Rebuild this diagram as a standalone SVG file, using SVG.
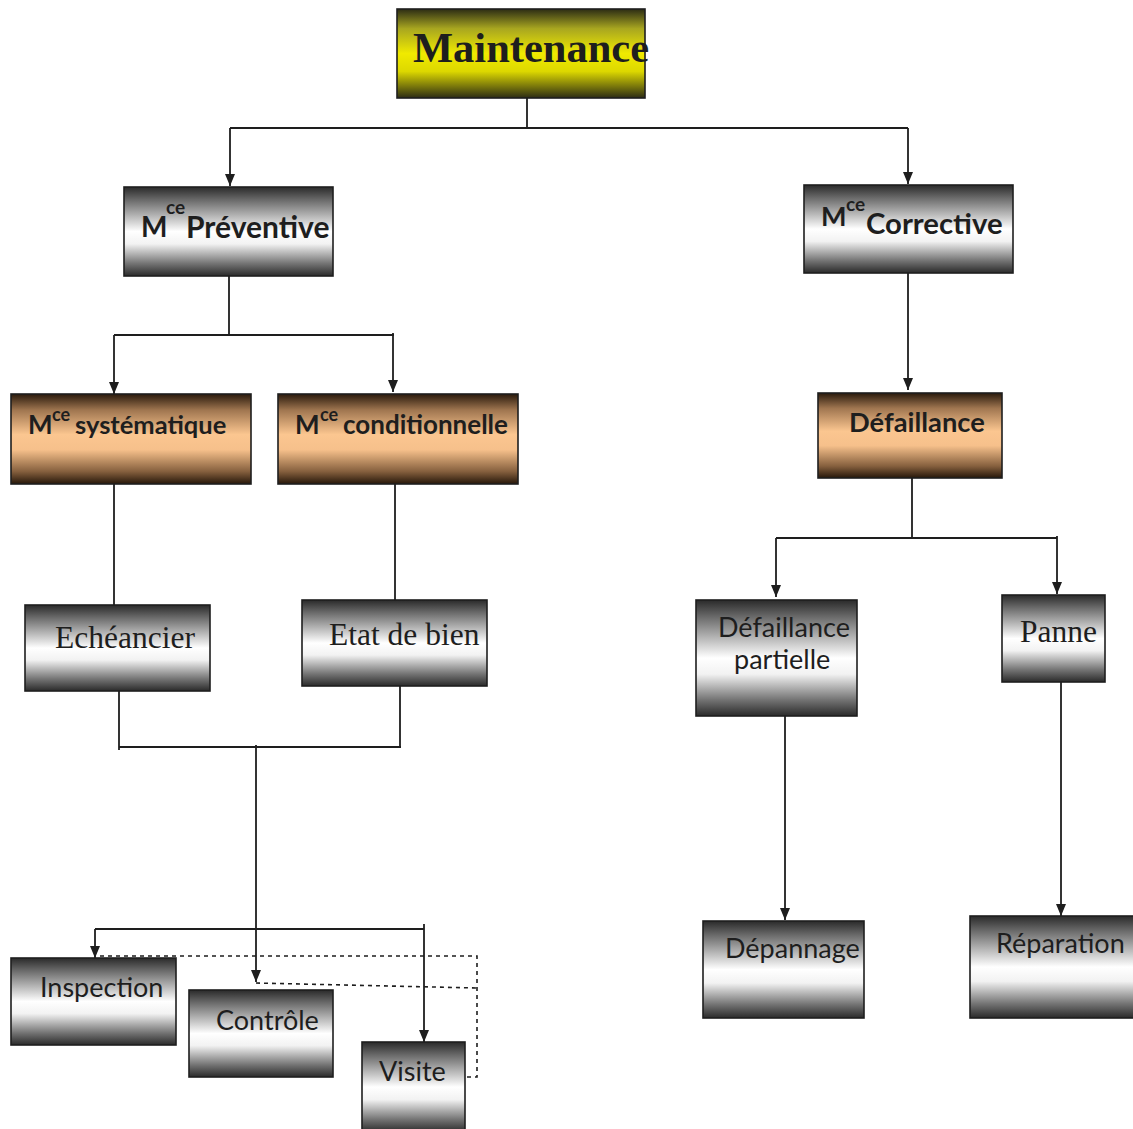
<svg xmlns="http://www.w3.org/2000/svg" width="1133" height="1129" viewBox="0 0 1133 1129">
<defs>
<linearGradient id="gGrey" x1="0" y1="0" x2="0" y2="1">
<stop offset="0" stop-color="#2a2a2a"/>
<stop offset="0.15" stop-color="#6c6c6c"/>
<stop offset="0.5" stop-color="#ffffff"/>
<stop offset="0.64" stop-color="#f2f2f2"/>
<stop offset="0.86" stop-color="#747474"/>
<stop offset="1" stop-color="#2a2a2a"/>
</linearGradient>
<linearGradient id="gOrange" x1="0" y1="0" x2="0" y2="1">
<stop offset="0" stop-color="#2a1a0c"/>
<stop offset="0.18" stop-color="#a07650"/>
<stop offset="0.45" stop-color="#fbc690"/>
<stop offset="0.62" stop-color="#f6c08b"/>
<stop offset="0.86" stop-color="#86603e"/>
<stop offset="1" stop-color="#26170a"/>
</linearGradient>
<linearGradient id="gYellow" x1="0" y1="0" x2="0" y2="1">
<stop offset="0" stop-color="#2c2c14"/>
<stop offset="0.22" stop-color="#a8a620"/>
<stop offset="0.5" stop-color="#f0ea00"/>
<stop offset="0.7" stop-color="#ddd800"/>
<stop offset="1" stop-color="#2c2c14"/>
</linearGradient>
<marker id="arr" viewBox="0 0 12 10" refX="12" refY="5" markerWidth="12" markerHeight="10" markerUnits="userSpaceOnUse" orient="auto">
<path d="M0,0 L12,5 L0,10 Z" fill="#1e1e1e"/>
</marker>
<style>
.box{stroke:#1e1e1e;stroke-width:1.6}
.grey{fill:url(#gGrey)}
.orange{fill:url(#gOrange)}
.yellow{fill:url(#gYellow)}
.ln{fill:none;stroke:#1e1e1e;stroke-width:1.8}
.dot{fill:none;stroke:#1e1e1e;stroke-width:1.6;stroke-dasharray:4 4}
.sb{font-family:Lato,"Liberation Sans",sans-serif;font-weight:bold;fill:#1e1e1e}
.sr{font-family:Lato,"Liberation Sans",sans-serif;fill:#1e1e1e;font-size:27px}
.sr2{font-family:"Liberation Serif",serif;fill:#1e1e1e;font-size:31.5px}
</style>
</defs>
<g id="connectors">
<path class="ln" d="M527,98 V128 M230,128 H908"/>
<path class="ln" d="M230,128 V186" marker-end="url(#arr)"/>
<path class="ln" d="M908,128 V184" marker-end="url(#arr)"/>
<path class="ln" d="M229,276 V335 M114,335 H394"/>
<path class="ln" d="M114,335 V394" marker-end="url(#arr)"/>
<path class="ln" d="M393,333 V392" marker-end="url(#arr)"/>
<path class="ln" d="M114,484 V605"/>
<path class="ln" d="M395,484 V600"/>
<path class="ln" d="M119,691 V750 M400,686 V748 M119,747 H401"/>
<path class="ln" d="M256,745 V982" marker-end="url(#arr)"/>
<path class="ln" d="M95,929 H424"/>
<path class="ln" d="M95,929 V958" marker-end="url(#arr)"/>
<path class="ln" d="M424,924 V1042" marker-end="url(#arr)"/>
<path class="dot" d="M100,956 H477 V1077 H445"/>
<path class="dot" d="M256,983 L477,988"/>
<path class="ln" d="M908,273 V390" marker-end="url(#arr)"/>
<path class="ln" d="M912,478 V538 M776,538 H1057"/>
<path class="ln" d="M776,538 V597" marker-end="url(#arr)"/>
<path class="ln" d="M1057,536 V594" marker-end="url(#arr)"/>
<path class="ln" d="M785,716 V920" marker-end="url(#arr)"/>
<path class="ln" d="M1061,682 V916" marker-end="url(#arr)"/>
</g>
<g id="maintenance">
<rect class="box yellow" x="397" y="9" width="248" height="89"/>
<text x="413" y="62" font-family="'Liberation Serif',serif" font-weight="bold" font-size="42.5" fill="#1e1e1e">Maintenance</text>
</g>
<g id="preventive">
<rect class="box grey" x="124" y="187" width="209" height="89"/>
<text class="sb" x="141" y="237" font-size="28">M</text>
<text class="sb" x="166" y="214" font-size="19">ce</text>
<text class="sb" x="186" y="238" font-size="30">Préventive</text>
</g>
<g id="corrective">
<rect class="box grey" x="804" y="185" width="209" height="88"/>
<text class="sb" x="821" y="226" font-size="27">M</text>
<text class="sb" x="846" y="211" font-size="19">ce</text>
<text class="sb" x="866" y="234" font-size="29.3">Corrective</text>
</g>
<g id="systematique">
<rect class="box orange" x="11" y="394" width="240" height="90"/>
<text class="sb" x="28" y="434" font-size="26">M</text>
<text class="sb" x="52" y="421" font-size="18">ce</text>
<text class="sb" x="75" y="434" font-size="25.5">systématique</text>
</g>
<g id="conditionnelle">
<rect class="box orange" x="278" y="394" width="240" height="90"/>
<text class="sb" x="295" y="434" font-size="26">M</text>
<text class="sb" x="320" y="421" font-size="18">ce</text>
<text class="sb" x="343" y="434" font-size="26">conditionnelle</text>
</g>
<g id="defaillance">
<rect class="box orange" x="818" y="393" width="184" height="85"/>
<text class="sb" x="849" y="432" font-size="27.3">Défaillance</text>
</g>
<g id="echeancier">
<rect class="box grey" x="25" y="605" width="185" height="86"/>
<text class="sr2" x="55" y="648">Echéancier</text>
</g>
<g id="etat-de-bien">
<rect class="box grey" x="302" y="600" width="185" height="86"/>
<text class="sr2" x="329" y="645">Etat de bien</text>
</g>
<g id="defaillance-partielle">
<rect class="box grey" x="696" y="600" width="161" height="116"/>
<text class="sr" x="718" y="637">Défaillance</text>
<text class="sr" x="734" y="669">partielle</text>
</g>
<g id="panne">
<rect class="box grey" x="1002" y="595" width="103" height="87"/>
<text class="sr2" x="1020" y="642">Panne</text>
</g>
<g id="inspection">
<rect class="box grey" x="11" y="958" width="165" height="87"/>
<text class="sr" x="40" y="997">Inspection</text>
</g>
<g id="controle">
<rect class="box grey" x="189" y="990" width="144" height="87"/>
<text class="sr" x="216" y="1030">Contrôle</text>
</g>
<g id="visite">
<rect class="box grey" x="362" y="1042" width="103" height="90"/>
<text class="sr" x="379" y="1081">Visite</text>
</g>
<g id="depannage">
<rect class="box grey" x="703" y="921" width="161" height="97"/>
<text class="sr" x="725" y="958">Dépannage</text>
</g>
<g id="reparation">
<rect class="box grey" x="970" y="916" width="165" height="102"/>
<text class="sr" x="996" y="953">Réparation</text>
</g>
</svg>
